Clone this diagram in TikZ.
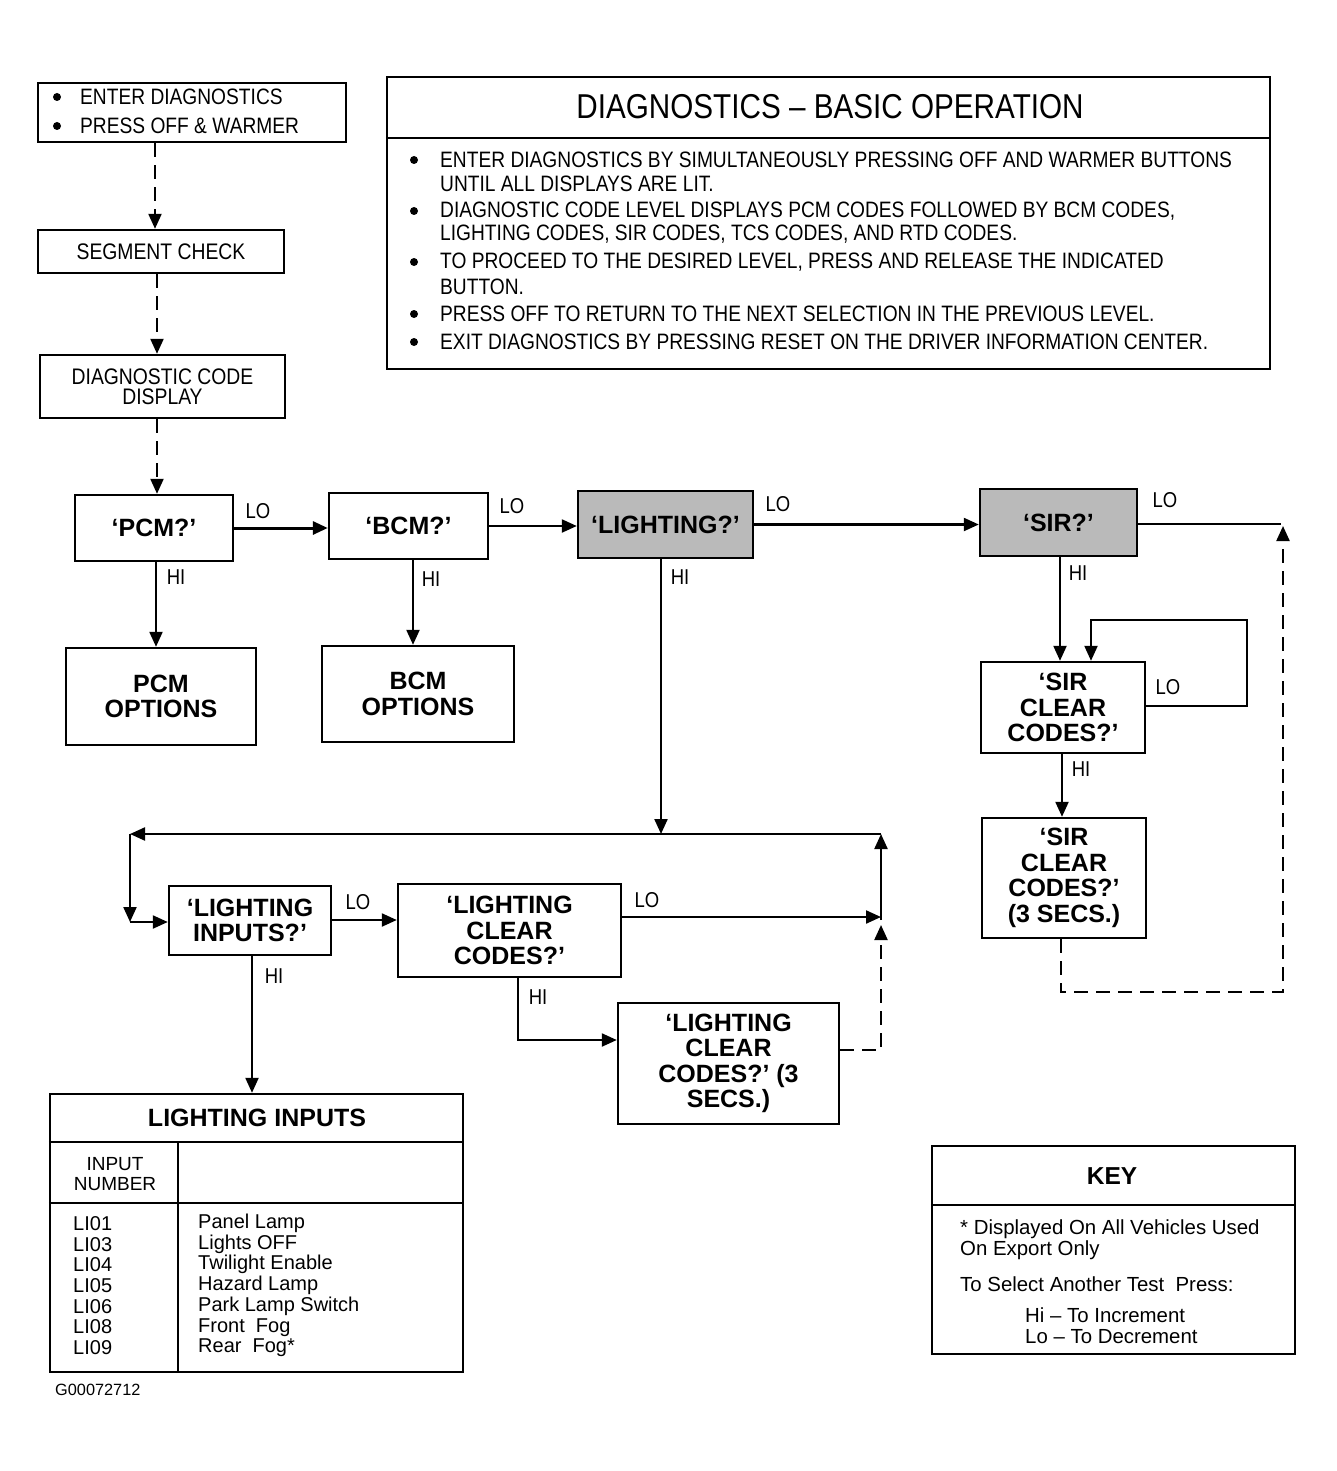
\documentclass[tikz,border=0pt]{standalone}
\usepackage{fontspec}
\setmainfont{Liberation Sans}
\newfontfamily\cond[FakeStretch=0.86]{Liberation Sans}
\usetikzlibrary{arrows.meta}
\tikzset{
  box/.style={draw, line width=2.4pt, inner sep=0pt, align=center},
  shaded/.style={box, fill=black!27},
  conn/.style={line width=2.2pt, -{Triangle[length=15pt,width=13pt]}},
  dconn/.style={conn, dash pattern=on 14pt off 8pt},
  plain/.style={line width=2.2pt},
  dot/.style={circle, fill=black, inner sep=0pt, minimum size=8pt},
  lbl/.style={font=\cond\fontsize{21.5}{22}\selectfont, inner sep=0pt},
  txt/.style={font=\cond\fontsize{22.3}{24}\selectfont, inner sep=0pt, anchor=west},
  bt/.style={font=\bfseries\fontsize{25}{25.5}\selectfont},
  tbl/.style={font=\fontsize{20}{20.7}\selectfont, inner sep=0pt, anchor=west, align=left},
  keyt/.style={font=\fontsize{20.4}{21}\selectfont, inner sep=0pt, anchor=west, align=left},
}
\begin{document}
\begin{tikzpicture}[x=1pt,y=-1pt]
\useasboundingbox[fill=white] (0,0) rectangle (1336,1471);

% ---------- top left chain ----------
\node[box, minimum width=308pt, minimum height=59pt] (enter) at (192,112.5) {};
\node[dot] (b1) at (57,97) {};
\node[txt] (e1) at (80,97) {ENTER DIAGNOSTICS};
\node[dot] (b2) at (57,126) {};
\node[txt] (e2) at (80,126) {PRESS OFF \& WARMER};

\node[box, minimum width=246pt, minimum height=43pt, font=\cond\fontsize{22.5}{22}\selectfont] (seg) at (161,251.5) {SEGMENT CHECK};
\node[box, minimum width=245pt, minimum height=63pt, font=\cond\fontsize{22.5}{20}\selectfont] (dcd) at (162.5,386.5) {DIAGNOSTIC CODE\\DISPLAY};

% ---------- big box ----------
\node[box, minimum width=883pt, minimum height=292pt] (big) at (828.5,223) {};
\draw[line width=2.4pt] (big.west |- 0,138) -- (big.east |- 0,138);
\node[font=\cond\fontsize{34.5}{34}\selectfont, inner sep=0pt] (title) at (830,107) {DIAGNOSTICS – BASIC OPERATION};
\foreach \yy in {160,211,262,314,342} {\node[dot] at (414,\yy) {};}
\node[txt] (t1) at (440,160) {ENTER DIAGNOSTICS BY SIMULTANEOUSLY PRESSING OFF AND WARMER BUTTONS};
\node[txt] (t2) at (440,184) {UNTIL ALL DISPLAYS ARE LIT.};
\node[txt] (t3) at (440,211) {DIAGNOSTIC CODE LEVEL DISPLAYS PCM CODES FOLLOWED BY BCM CODES,};
\node[txt] (t4) at (440,234) {LIGHTING CODES, SIR CODES, TCS CODES, AND RTD CODES.};
\node[txt] (t5) at (440,262) {TO PROCEED TO THE DESIRED LEVEL, PRESS AND RELEASE THE INDICATED};
\node[txt] (t6) at (440,287) {BUTTON.};
\node[txt] (t7) at (440,314) {PRESS OFF TO RETURN TO THE NEXT SELECTION IN THE PREVIOUS LEVEL.};
\node[txt] (t8) at (440,342) {EXIT DIAGNOSTICS BY PRESSING RESET ON THE DRIVER INFORMATION CENTER.};

% ---------- row of modules ----------
\node[box, bt, minimum width=158pt, minimum height=66pt] (pcmq) at (154,528) {`PCM?'};
\node[box, bt, minimum width=159pt, minimum height=66pt] (bcmq) at (408.5,526) {`BCM?'};
\node[shaded, bt, minimum width=175pt, minimum height=67pt] (lightq) at (665.5,524.5) {`LIGHTING?'};
\node[shaded, bt, minimum width=157pt, minimum height=67pt] (sirq) at (1058.5,522.5) {`SIR?'};

\node[box, bt, minimum width=190pt, minimum height=97pt] (pcmopt) at (161,696.5) {PCM\\OPTIONS};
\node[box, bt, minimum width=192pt, minimum height=96pt] (bcmopt) at (418,694) {BCM\\OPTIONS};

\node[box, bt, minimum width=164pt, minimum height=91pt] (sirclr) at (1063,707.5) {`SIR\\CLEAR\\CODES?'};
\node[box, bt, minimum width=164pt, minimum height=120pt] (sir3) at (1064,878) {`SIR\\CLEAR\\CODES?'\\(3 SECS.)};

\node[box, bt, minimum width=162pt, minimum height=69pt] (linq) at (250,920.5) {`LIGHTING\\INPUTS?'};
\node[box, bt, minimum width=223pt, minimum height=93pt] (lclr) at (509.5,930.5) {`LIGHTING\\CLEAR\\CODES?'};
\node[box, bt, minimum width=221pt, minimum height=121pt] (l3) at (728.5,1063.5) {`LIGHTING\\CLEAR\\CODES?' (3\\SECS.)};

% ---------- table ----------
\node[box, minimum width=413pt, minimum height=278pt] (table) at (256.5,1233) {};
\draw[line width=2.4pt] (table.west |- 0,1142) -- (table.east |- 0,1142);
\draw[line width=2.4pt] (table.west |- 0,1203) -- (table.east |- 0,1203);
\draw[line width=2.4pt] (178,1142) -- (table.south -| 178,0);
\node[font=\bfseries\fontsize{25}{25}\selectfont, inner sep=0pt] (ttl) at (257,1118) {LIGHTING INPUTS};
\node[font=\fontsize{19}{20}\selectfont, align=center, inner sep=0pt] (inum) at (115,1174) {INPUT\\NUMBER};
\node[tbl] (codes) at (73,1285.5) {LI01\\LI03\\LI04\\LI05\\LI06\\LI08\\LI09};
\node[tbl] (descs) at (198,1285.5) {Panel Lamp\\Lights OFF\\Twilight Enable\\Hazard Lamp\\Park Lamp Switch\\Front\ \ Fog\\Rear\ \ Fog*};
\node[font=\fontsize{16.3}{16}\selectfont, inner sep=0pt, anchor=west] (gnum) at (55,1390) {G00072712};

% ---------- key ----------
\node[box, minimum width=363pt, minimum height=208pt] (key) at (1113.5,1250) {};
\draw[line width=2.4pt] (key.west |- 0,1205) -- (key.east |- 0,1205);
\node[font=\bfseries\fontsize{24.5}{24}\selectfont, inner sep=0pt] (keyttl) at (1112,1176) {KEY};
\node[keyt] (k1) at (960,1239.5) {* Displayed On All Vehicles Used\\On Export Only};
\node[keyt] (k2) at (960,1284) {To Select Another Test\ \ Press:};
\node[keyt] (k3) at (1025,1326) {Hi – To Increment\\Lo – To Decrement};

% ---------- connectors ----------
\draw[dconn] (enter.south -| 155,0) -- (seg.north -| 155,0);
\draw[dconn] (seg.south -| 157,0) -- (dcd.north -| 157,0);
\draw[dconn] (dcd.south -| 157,0) -- (pcmq.north -| 157,0);

\draw[conn, line width=3pt] (pcmq.east) -- (bcmq.west |- pcmq.east);
\node[lbl] (lo1) at (258,511) {LO};
\draw[conn] (bcmq.east) -- (lightq.west |- bcmq.east);
\node[lbl] (lo2) at (512,506) {LO};
\draw[conn] (lightq.east) -- (sirq.west |- lightq.east);
\node[lbl] (lo3) at (778,504) {LO};

\coordinate (sirR) at (1281,524);
\draw[plain] (sirq.east |- sirR) -- (sirR);
\node[lbl] (lo4) at (1165,500) {LO};
\draw[dconn] (sir3.south -| 1061,0) -- (1061,992) -- (1283,992) -- (1283,526);

\draw[conn] (pcmq.south -| 156,0) -- (pcmopt.north -| 156,0);
\node[lbl] (hi1) at (176,577) {HI};
\draw[conn] (bcmq.south -| 413,0) -- (bcmopt.north -| 413,0);
\node[lbl] (hi2) at (431,579) {HI};

\draw[conn] (sirq.south -| 1060,0) -- (sirclr.north -| 1060,0);
\node[lbl] (hi4) at (1078,573) {HI};
\draw[conn] (sirclr.east |- 0,706) -- (1247,706) -- (1247,620) -- (1091,620) -- (sirclr.north -| 1091,0);
\node[lbl] (lo5) at (1168,687) {LO};
\draw[conn] (sirclr.south -| 1062,0) -- (sir3.north -| 1062,0);
\node[lbl] (hi5) at (1081,769) {HI};

% lighting loop
\coordinate (lTR) at (881,834);
\coordinate (lTL) at (130,834);
\coordinate (lBL) at (130,922);
\coordinate (lMR) at (881,920);
\draw[conn] (lightq.south -| 661,0) -- (661,834);
\node[lbl] (hi3) at (680,577) {HI};
\draw[conn] (lMR) -- (lTR);
\draw[conn] (lTR) -- (lTL);
\draw[conn] (lTL) -- (lBL);
\draw[conn] (lBL) -- (linq.west |- lBL);
\draw[conn] (linq.east |- 0,920) -- (lclr.west |- 0,920);
\node[lbl] (lo6) at (358,902) {LO};
\draw[conn] (lclr.east |- 0,917) -- (lMR |- 0,917);
\node[lbl] (lo7) at (647,900) {LO};
\draw[conn] (lclr.south -| 518,0) |- (l3.west |- 0,1040);
\node[lbl] (hi6) at (538,997) {HI};
\draw[dconn] (l3.east |- 0,1050) -| (lMR |- 0,925);
\draw[conn] (linq.south -| 252,0) -- (table.north -| 252,0);
\node[lbl] (hi7) at (274,976) {HI};
\end{tikzpicture}
\end{document}
